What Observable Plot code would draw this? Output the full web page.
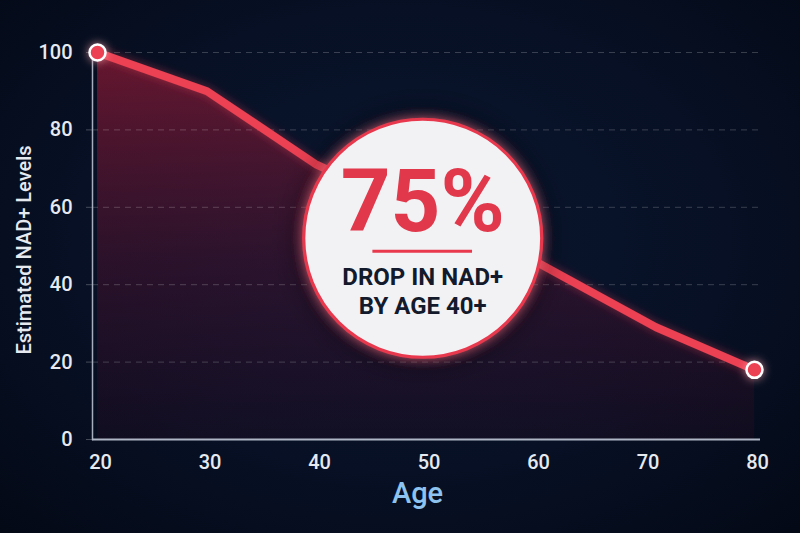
<!DOCTYPE html>
<html>
<head>
<meta charset="utf-8">
<script src="https://cdn.jsdelivr.net/npm/d3@7"></script>
<script src="https://cdn.jsdelivr.net/npm/@observablehq/plot@0.6"></script>
<style>
  html, body { margin: 0; padding: 0; }
  body {
    width: 800px; height: 533px; overflow: hidden;
    background: radial-gradient(ellipse 75% 80% at 50% 45%, #0a1630 0%, #071024 55%, #030814 100%);
    font-family: Roboto, "Noto Sans", sans-serif;
  }
  #chart svg { display: block; }
</style>
</head>
<body>
<div id="chart"></div>
<script>
// ---- data ----
const ages   = [20, 30, 40, 50, 60, 71, 80];
const levels = [100, 90, 71, 58, 46, 29, 18];
const xTicks = [20, 30, 40, 50, 60, 70, 80];
const yTicks = [0, 20, 40, 60, 80, 100];
const calloutAge = [49.7];
const calloutLevel = [52];
const calloutBig = ["75%"];
const calloutSmall = ["DROP IN NAD+\nBY AGE 40+"];
const xLabel = "Age";
const yLabel = "Estimated NAD+ Levels";

const data = ages.map((a, i) => ({age: a, level: levels[i]}));
const ends = [data[0], data[data.length - 1]];
const callout = calloutAge.map((a, i) => ({
  age: a, level: calloutLevel[i], big: calloutBig[i], small: calloutSmall[i],
  x1: a - 4.55, x2: a + 4.55
}));

const red = "#ec3f52";

const chart = Plot.plot({
  width: 800,
  height: 533,
  marginLeft: 92,
  marginRight: 40,
  marginTop: 52,
  marginBottom: 94,
  style: {background: "transparent", color: "#e6e9ef", fontFamily: "Roboto, sans-serif", overflow: "visible"},
  x: {domain: [20, 80], insetLeft: 5, insetRight: 6},
  y: {domain: [0, 100]},
  marks: [
    Plot.areaY(data, {x: "age", y: "level", fill: "url(#areaGrad)", curve: "linear"}),
    Plot.ruleY(yTicks.filter(d => d > 0), {stroke: "#ffffff", strokeOpacity: 0.2, strokeDasharray: "6,5"}),
    Plot.axisY({ticks: yTicks, tickSize: 6, tickPadding: 14, fontSize: 20, fontWeight: 500, label: null,
      stroke: "#ffffff", strokeOpacity: 0.25, fill: "#e6e9ef"}),
    Plot.axisX({ticks: xTicks, tickSize: 0, tickPadding: 15, fontSize: 20, fontWeight: 500, label: null, fill: "#e6e9ef", dx: 3}),
    Plot.frame({anchor: "left", stroke: "#a7afbf", strokeWidth: 1.5}),
    Plot.ruleY([0], {stroke: "#aeb5c4", strokeWidth: 2}),
    Plot.line(data, {x: "age", y: "level", stroke: red, strokeWidth: 8, strokeLinejoin: "round"}),
    Plot.dot(ends, {x: "age", y: "level", r: 8, fill: red, stroke: "#ffffff", strokeWidth: 2.5}),
    Plot.dot(callout, {x: "age", y: "level", r: 119, fill: "#f2f2f5", stroke: "#e8394d", strokeWidth: 3.2}),
    Plot.text(callout, {x: "age", y: "level", text: "big", dy: -35, fontSize: 87, fontWeight: 700,
      fill: "#e1384b", lineAnchor: "middle", textAnchor: "middle"}),
    Plot.ruleY(callout, {x1: "x1", x2: "x2", y: "level", dy: 13, stroke: "#e8394d", strokeWidth: 3}),
    Plot.text(callout, {x: "age", y: "level", text: "small", dy: 52, fontSize: 24, fontWeight: 700,
      fill: "#121a2c", lineAnchor: "middle", lineHeight: 1.2, textAnchor: "middle"}),
    Plot.text([xLabel], {frameAnchor: "bottom", text: d => d, dx: -9, dy: 54, fontSize: 29, fontWeight: 500,
      fill: "#8ec3ef", lineAnchor: "middle", textAnchor: "middle"}),
    Plot.text([yLabel], {frameAnchor: "left", text: d => d, rotate: -90, dx: -68, dy: 4, fontSize: 20,
      fontWeight: 500, fill: "#e6e9ef", lineAnchor: "middle", textAnchor: "middle"})
  ]
});

const defs = d3.select(chart).insert("defs", ":first-child");
const grad = defs.append("linearGradient").attr("id", "areaGrad")
  .attr("x1", 0).attr("y1", 0).attr("x2", 0).attr("y2", 1);
grad.append("stop").attr("offset", 0).attr("stop-color", "#a81c38").attr("stop-opacity", 0.6);
grad.append("stop").attr("offset", 0.55).attr("stop-color", "#5a1230").attr("stop-opacity", 0.42);
grad.append("stop").attr("offset", 1).attr("stop-color", "#2a0c22").attr("stop-opacity", 0.3);

const glow = defs.append("filter").attr("id", "glow").attr("filterUnits", "userSpaceOnUse")
  .attr("x", 0).attr("y", 0).attr("width", 800).attr("height", 533);
glow.append("feGaussianBlur").attr("in", "SourceGraphic").attr("stdDeviation", 5).attr("result", "b0");
glow.append("feComponentTransfer").attr("in", "b0").attr("result", "b")
  .append("feFuncA").attr("type", "linear").attr("slope", 0.45);
const gm = glow.append("feMerge");
gm.append("feMergeNode").attr("in", "b");
gm.append("feMergeNode").attr("in", "SourceGraphic");

const dglow = defs.append("filter").attr("id", "dotglow").attr("filterUnits", "userSpaceOnUse")
  .attr("x", 0).attr("y", 0).attr("width", 800).attr("height", 533);
dglow.append("feGaussianBlur").attr("in", "SourceAlpha").attr("stdDeviation", 5).attr("result", "b");
dglow.append("feFlood").attr("flood-color", "#ffb0b8").attr("flood-opacity", 0.7);
dglow.append("feComposite").attr("in2", "b").attr("operator", "in").attr("result", "g");
const dm = dglow.append("feMerge");
dm.append("feMergeNode").attr("in", "g");
dm.append("feMergeNode").attr("in", "SourceGraphic");

const cglow = defs.append("filter").attr("id", "cglow").attr("filterUnits", "userSpaceOnUse")
  .attr("x", 0).attr("y", 0).attr("width", 800).attr("height", 533);
cglow.append("feGaussianBlur").attr("in", "SourceAlpha").attr("stdDeviation", 16).attr("result", "b1");
cglow.append("feFlood").attr("flood-color", "#02050d").attr("flood-opacity", 0.6);
cglow.append("feComposite").attr("in2", "b1").attr("operator", "in").attr("result", "dark");
cglow.append("feGaussianBlur").attr("in", "SourceAlpha").attr("stdDeviation", 5).attr("result", "b2");
cglow.append("feFlood").attr("flood-color", "#ff7080").attr("flood-opacity", 0.55);
cglow.append("feComposite").attr("in2", "b2").attr("operator", "in").attr("result", "redg");
const cm = cglow.append("feMerge");
cm.append("feMergeNode").attr("in", "dark");
cm.append("feMergeNode").attr("in", "redg");
cm.append("feMergeNode").attr("in", "SourceGraphic");

const svg = d3.select(chart);
svg.selectAll("g[stroke-width='8']").attr("filter", "url(#glow)");
svg.selectAll("g[stroke-width='2.5']").attr("filter", "url(#dotglow)");
svg.selectAll("g[stroke-width='3.2']").attr("filter", "url(#cglow)");

document.getElementById("chart").appendChild(chart);
</script>
</body>
</html>
